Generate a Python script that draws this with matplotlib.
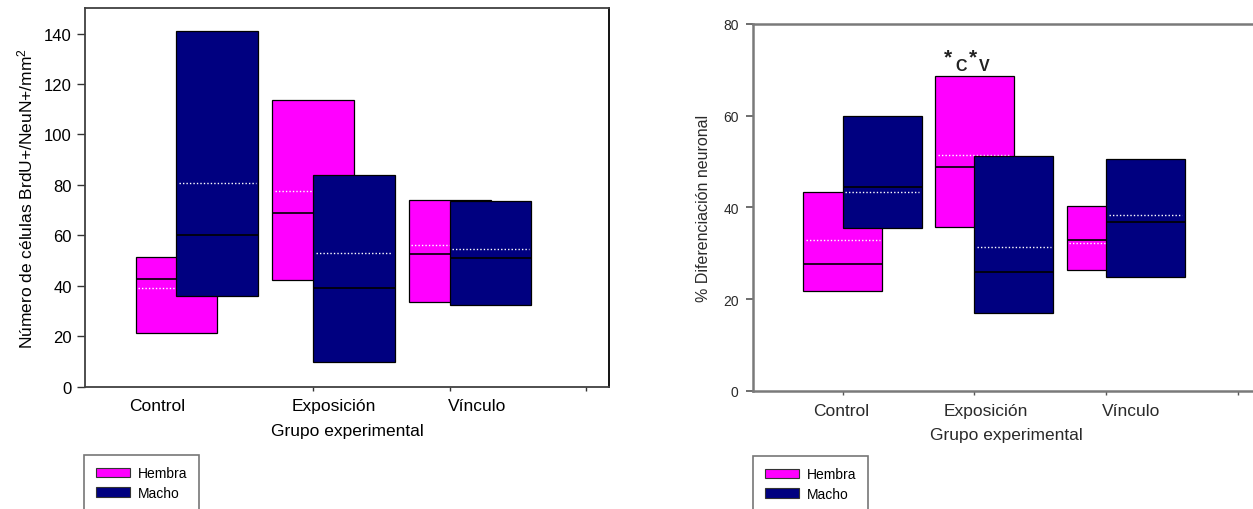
import numpy as np
import matplotlib
matplotlib.use("Agg")
import matplotlib.pyplot as plt
from matplotlib.patches import Patch

plt.rcParams['font.family'] = ['Liberation Sans', 'DejaVu Sans']
plt.rcParams['mathtext.fontset'] = 'custom'
plt.rcParams['mathtext.rm'] = 'Liberation Sans'
plt.rcParams['mathtext.it'] = 'Liberation Sans:italic'
plt.rcParams['mathtext.bf'] = 'Liberation Sans:bold'

groups = ['Control', 'Exposición', 'Vínculo']
sexes = ['Hembra', 'Macho']

# BrdU+/NeuN+ cells per mm2 : 25th pct, 75th pct, median, mean
cel_hembra_q1 = [21.1, 42.4, 33.6]
cel_hembra_q3 = [51.5, 113.6, 74.0]
cel_hembra_med = [42.5, 69.0, 52.5]
cel_hembra_mean = [39.0, 77.5, 56.0]
cel_macho_q1 = [36.1, 9.9, 32.5]
cel_macho_q3 = [141.0, 84.1, 73.6]
cel_macho_med = [60.0, 39.0, 51.0]
cel_macho_mean = [80.6, 53.0, 54.7]

# % neuronal differentiation
dif_hembra_q1 = [21.8, 35.8, 26.3]
dif_hembra_q3 = [43.4, 68.7, 40.3]
dif_hembra_med = [27.6, 48.7, 32.9]
dif_hembra_mean = [32.9, 51.4, 32.3]
dif_macho_q1 = [35.4, 17.0, 24.8]
dif_macho_q3 = [59.9, 51.1, 50.5]
dif_macho_med = [44.4, 26.0, 36.8]
dif_macho_mean = [43.4, 31.4, 38.3]

# significance mark over Exposición / Hembra (vs Control and Vínculo)
sig_parts = ['*', 'C', '*', 'V']

colors = {'Hembra': '#ff00ff', 'Macho': '#000080'}
W = 0.6
offs = {'Hembra': 0.0, 'Macho': 0.3}


def boxes(ax, q1, q3, med, mean, sex, z):
    x = np.arange(1, len(q1) + 1) + offs[sex]
    q1 = np.array(q1); q3 = np.array(q3)
    ax.bar(x, q3 - q1, bottom=q1, width=W, color=colors[sex],
           edgecolor='black', linewidth=0.9, zorder=z)
    ax.hlines(med, x - W / 2, x + W / 2, color='black', lw=1.2, zorder=z + 0.1)
    ax.hlines(mean, x - W / 2 + 0.02, x + W / 2 - 0.02, color='white', lw=1.0,
              linestyles=(0, (1, 1.5)), zorder=z + 0.2)


fig = plt.figure(figsize=(12.53, 5.10), dpi=100)

# left panel
ax1 = fig.add_axes([85 / 1253, 1 - 387.7 / 510, 524.3 / 1253, 378.4 / 510])
boxes(ax1, cel_hembra_q1, cel_hembra_q3, cel_hembra_med, cel_hembra_mean, 'Hembra', 2)
boxes(ax1, cel_macho_q1, cel_macho_q3, cel_macho_med, cel_macho_mean, 'Macho', 3)
ax1.set_xlim(0.33, 4.17)
ax1.set_ylim(0, 150)
ax1.set_yticks(np.arange(0, 141, 20))
ax1.set_xticks([2, 3, 4])
ax1.set_xticklabels([])
ax1.set_xticks([0.86, 2.15, 3.2], minor=True)
ax1.set_xticklabels(groups, minor=True)
ax1.tick_params(axis='x', which='major', length=3, width=1, color='#333333')
ax1.tick_params(axis='x', which='minor', length=0, pad=8, labelsize=12.5)
ax1.tick_params(axis='y', length=5.5, width=1, color='#333333', pad=4, labelsize=12)
for s in ax1.spines.values():
    s.set_color('#404040')
    s.set_linewidth(1.3)
ax1.spines['right'].set_color('black')
ax1.set_ylabel('Número de células BrdU+/NeuN+/mm$^2$', fontsize=12.5)
ax1.yaxis.set_label_coords(-0.095, 0.5)
ax1.set_xlabel('Grupo experimental', fontsize=12.5)
ax1.xaxis.set_label_coords(0.5, -0.097)

# right panel
ax2 = fig.add_axes([753.3 / 1253, 1 - 391.7 / 510, 506.7 / 1253, 366.7 / 510])
boxes(ax2, dif_hembra_q1, dif_hembra_q3, dif_hembra_med, dif_hembra_mean, 'Hembra', 2)
boxes(ax2, dif_macho_q1, dif_macho_q3, dif_macho_med, dif_macho_mean, 'Macho', 3)
ax2.set_xlim(0.32, 4.17)
ax2.set_ylim(0, 80)
ax2.set_yticks(np.arange(0, 81, 20))
ax2.set_xticks([1, 2, 3, 4])
ax2.set_xticklabels([])
ax2.set_xticks([0.99, 2.09, 3.19], minor=True)
ax2.set_xticklabels(groups, minor=True)
ax2.tick_params(axis='x', which='major', length=3, width=1, color='#555555')
ax2.tick_params(axis='x', which='minor', length=0, pad=9, labelsize=12.5,
                labelcolor='#2a2a2a')
ax2.tick_params(axis='y', length=5, width=1.2, color='#555555', pad=5.5,
                labelsize=10, labelcolor='#2a2a2a')
for s in ax2.spines.values():
    s.set_color('#7a7a7a')
    s.set_linewidth(1.8)
ax2.set_ylabel('% Diferenciación neuronal', fontsize=11.5, color='#2a2a2a')
ax2.yaxis.set_label_coords(-0.083, 0.5)
ax2.set_xlabel('Grupo experimental', fontsize=12.5, color='#2a2a2a')
ax2.xaxis.set_label_coords(0.5, -0.099)

# stars raised, letters lowered, around one anchor point above the box
sig_offsets = [(-12.5, 2), (-3, -4), (5.5, 2), (13.5, -4)]
for part, (dx, dy) in zip(sig_parts, sig_offsets):
    ax2.annotate(part, xy=(1.93, 72.2), xytext=(dx, dy),
                 textcoords='offset points', ha='center', va='center',
                 fontsize=15 if part == '*' else 11.5, fontweight='bold',
                 color='#222222')

# legends, frame runs past the bottom edge
handles = [Patch(facecolor=colors[s], edgecolor='#333333', linewidth=0.8) for s in sexes]
for x0, top in [(84.3, 455.5), (753.3, 456.5)]:
    leg = fig.legend(handles, sexes, loc='upper left',
                     bbox_to_anchor=(x0 / 1253, 1 - top / 510),
                     bbox_transform=fig.transFigure, fontsize=10,
                     frameon=True, fancybox=False, edgecolor='#555555',
                     handlelength=2.4, handleheight=0.67, handletextpad=0.6,
                     labelspacing=0.38, borderpad=0.86, borderaxespad=0)
    leg.get_frame().set_linewidth(1.2)

fig.savefig('out.png', dpi=100)
